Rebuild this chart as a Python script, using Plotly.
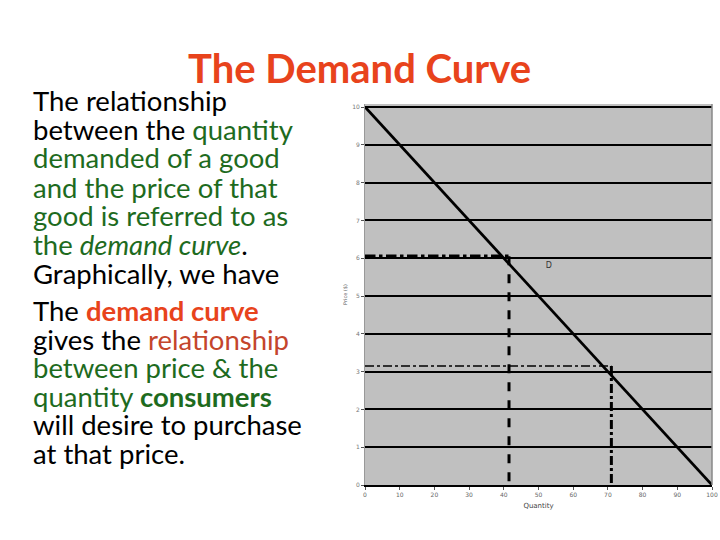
import plotly.graph_objects as go

# Data
demand_q = [0, 100]
demand_p = [10, 0]
price_high = 6.05
qty_high = 41.5
price_low = 3.15
qty_low = 71
x_ticks = [0, 10, 20, 30, 40, 50, 60, 70, 80, 90, 100]
y_ticks = [0, 1, 2, 3, 4, 5, 6, 7, 8, 9, 10]
label_q, label_p, label_text = 53, 5.8, "D"

GREEN = "#1E6B1E"
RED = "#E8431C"
RED2 = "#C4452C"

fig = go.Figure()
fig.add_trace(go.Scatter(x=demand_q, y=demand_p, mode="lines",
                         line=dict(color="black", width=2.8), hoverinfo="skip"))
fig.add_trace(go.Scatter(x=[0, qty_high], y=[price_high, price_high], mode="lines",
                         line=dict(color="black", width=3.5, dash="dashdot"), hoverinfo="skip"))
fig.add_trace(go.Scatter(x=[qty_high, qty_high], y=[price_high, 0], mode="lines",
                         line=dict(color="black", width=3, dash="dash"), hoverinfo="skip"))
fig.add_trace(go.Scatter(x=[0, qty_low], y=[price_low, price_low], mode="lines",
                         line=dict(color="black", width=1.5, dash="dashdot"), hoverinfo="skip"))
fig.add_trace(go.Scatter(x=[qty_low, qty_low], y=[price_low, 0], mode="lines",
                         line=dict(color="black", width=3, dash="dashdot"), hoverinfo="skip"))
fig.add_trace(go.Scatter(x=[label_q], y=[label_p], mode="text", text=[label_text],
                         textfont=dict(size=8, color="#333", family="DejaVu Sans"),
                         hoverinfo="skip"))

fig.update_layout(
    width=720, height=540, margin=dict(l=0, r=0, t=0, b=0, autoexpand=False),
    paper_bgcolor="white", plot_bgcolor="#C0C0C0", showlegend=False,
    xaxis=dict(domain=[365/720, 712/720], range=[0, 100], tickvals=x_ticks, automargin=False,
               showgrid=False, zeroline=False, showline=True, linecolor="black", linewidth=2,
               ticks="outside", ticklen=3, tickcolor="#555",
               tickfont=dict(size=6, color="#666", family="DejaVu Sans"),
               title=dict(text="Quantity", font=dict(size=7, color="#444", family="DejaVu Sans"),
                          standoff=6)),
    yaxis=dict(domain=[1 - 485/540, 1 - 104/540], range=[0, 10.08], tickvals=y_ticks,
               automargin=False,
               showgrid=True, gridcolor="black", gridwidth=1.6, zeroline=False,
               showline=True, linecolor="#999", linewidth=1,
               ticks="outside", ticklen=3, tickcolor="#555",
               tickfont=dict(size=6, color="#777", family="DejaVu Sans"),
               title=dict(text="Price ($)", font=dict(size=5, color="#555", family="DejaVu Sans"),
                          standoff=4)),
)
fig.add_shape(type="line", xref="paper", yref="paper", x0=712/720, x1=712/720,
              y0=1 - 485/540, y1=1 - 104/540, line=dict(color="#888", width=1.5))

fig.add_annotation(text="<b>The Demand Curve</b>", xref="paper", yref="paper",
                   x=359/720, y=1 - 68/540, xanchor="center", yanchor="middle", showarrow=False,
                   font=dict(family="Lato", size=40, color=RED))

lines = [
    "The relationship",
    f"between the <span style='color:{GREEN}'>quantity</span>",
    f"<span style='color:{GREEN}'>demanded of a good</span>",
    f"<span style='color:{GREEN}'>and the price of that</span>",
    f"<span style='color:{GREEN}'>good is referred to as</span>",
    f"<span style='color:{GREEN}'>the <i>demand curve</i></span>.",
    "Graphically, we have",
    f"The <b><span style='color:{RED}'>demand curve</span></b>",
    f"gives the <span style='color:{RED2}'>relationship</span>",
    f"<span style='color:{GREEN}'>between price &amp; the</span>",
    f"<span style='color:{GREEN}'>quantity <b>consumers</b></span>",
    "will desire to purchase",
    "at that price.",
]
ys = [101, 130, 158, 187, 215, 244, 273, 310, 339, 367, 396, 424, 453]
for t, yy in zip(lines, ys):
    fig.add_annotation(text=t, xref="paper", yref="paper", x=32/720, y=1 - yy/540,
                       xanchor="left", yanchor="middle", showarrow=False, borderpad=0,
                       font=dict(family="Lato", size=27.5, color="black"))

fig.write_html("out.html", config={"displayModeBar": False},
               post_script="document.body.style.margin='0';document.body.style.overflow='hidden';")
